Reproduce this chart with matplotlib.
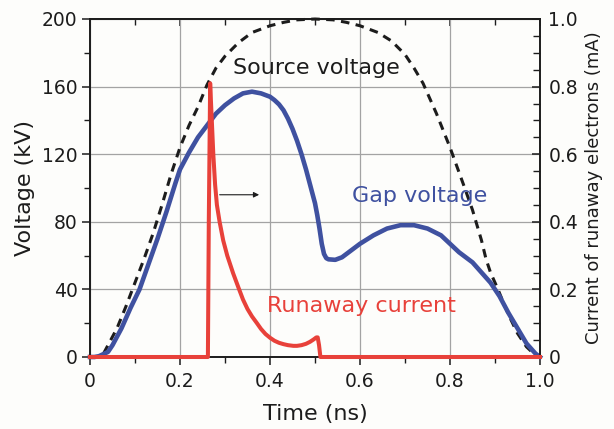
"""
Source voltage, gap voltage and runaway-electron current vs time.
Voltages on the left axis (kV), runaway current on the right axis (mA).
"""

import matplotlib
matplotlib.use('Agg')
import matplotlib.pyplot as plt
from matplotlib.ticker import MultipleLocator

# --- data ---
t_source = [0.0, 0.02, 0.03, 0.04, 0.06, 0.08, 0.10, 0.12, 0.14, 0.16, 0.18,
            0.20, 0.22, 0.24, 0.26, 0.28, 0.30, 0.33, 0.36, 0.40, 0.43, 0.46,
            0.50, 0.54, 0.57, 0.60, 0.64, 0.67, 0.70, 0.72, 0.74, 0.77, 0.80,
            0.83, 0.85, 0.87, 0.88, 0.89, 0.905, 0.93, 0.95, 0.97, 0.99, 1.0]
v_source = [0, 0, 2, 7, 17, 30, 44, 58, 73, 90, 108,
            124, 137, 148, 161, 171, 178, 186, 192, 196, 198, 199.5,
            200, 199.5, 198, 196, 192, 187, 179, 171, 162, 144, 124,
            102, 87, 69, 58, 50, 41, 25, 14, 6, 1, 0]

t_gap = [0.0, 0.01, 0.02, 0.04, 0.05, 0.07, 0.09, 0.11, 0.13, 0.15, 0.17,
         0.19, 0.20, 0.22, 0.24, 0.26, 0.28, 0.30, 0.32, 0.34, 0.36, 0.38,
         0.40, 0.41, 0.42, 0.43, 0.44, 0.45, 0.46, 0.47, 0.48, 0.49, 0.50,
         0.505, 0.51, 0.515, 0.52, 0.525, 0.53, 0.545, 0.56, 0.58, 0.60,
         0.63, 0.66, 0.69, 0.72, 0.75, 0.78, 0.80, 0.82, 0.85, 0.87, 0.89,
         0.91, 0.93, 0.95, 0.97, 0.99, 1.0]
v_gap = [0, 0, 0.5, 3, 7, 17, 29, 40, 55, 70, 86,
         103, 111, 121, 130, 137, 144, 149, 153, 156, 157, 156,
         154, 152, 149.5, 146, 141, 135, 128, 120, 111, 101, 91,
         84, 76, 67, 61, 58.5, 57.8, 57.5, 59, 63, 67,
         72, 76, 78, 78, 76, 72, 67, 62, 56, 50, 44,
         36, 26, 17, 8, 2, 0]

t_runaway = [0.0, 0.262, 0.264, 0.267, 0.270, 0.274, 0.278, 0.282, 0.288,
             0.296, 0.305, 0.318, 0.33, 0.34, 0.35, 0.36, 0.371, 0.38, 0.39,
             0.40, 0.41, 0.42, 0.43, 0.44, 0.452, 0.46, 0.47, 0.48, 0.489,
             0.497, 0.503, 0.506, 0.509, 0.512, 1.0]
i_runaway = [0, 0, 0.40, 0.81, 0.72, 0.60, 0.51, 0.45, 0.40,
             0.345, 0.30, 0.248, 0.205, 0.17, 0.142, 0.12, 0.10, 0.083, 0.068,
             0.057, 0.048, 0.042, 0.038, 0.035, 0.033, 0.033, 0.035, 0.039,
             0.045, 0.052, 0.058, 0.058, 0.035, 0, 0]

BLUE = "#3f51a0"
RED = "#e8413a"
DARK = "#1c1c1c"

plt.rcParams['font.family'] = ['DejaVu Sans']

fig = plt.figure(figsize=(6.14, 4.29), dpi=100, facecolor="#fdfdfb")
ax = fig.add_axes([90 / 614, 1 - 357 / 429, 450 / 614, 338 / 429])
ax.set_facecolor("#fdfdfb")
ax2 = ax.twinx()

ax.plot(t_source, v_source, color=DARK, lw=2.2, ls=(0, (2.8, 2.1)),
        clip_on=False, zorder=3)
ax.plot(t_gap, v_gap, color=BLUE, lw=3.3, clip_on=False, zorder=4,
        solid_joinstyle='round')
ax2.plot(t_runaway, i_runaway, color=RED, lw=2.9, clip_on=False, zorder=5,
         solid_joinstyle='round')

# axis ranges and ticks
ax.set_xlim(0, 1.0)
ax.set_ylim(0, 200)
ax2.set_ylim(0, 1.0)

ax.xaxis.set_minor_locator(MultipleLocator(0.1))
ax.yaxis.set_major_locator(MultipleLocator(40))
ax.yaxis.set_minor_locator(MultipleLocator(20))
ax2.yaxis.set_minor_locator(MultipleLocator(0.05))

ax.set_xticks([0, 0.2, 0.4, 0.6, 0.8, 1.0])
ax.set_xticklabels(["0", "0.2", "0.4", "0.6", "0.8", "1.0"])
ax2.set_yticks([0, 0.2, 0.4, 0.6, 0.8, 1.0])
ax2.set_yticklabels(["0", "0.2", "0.4", "0.6", "0.8", "1.0"])

ax.tick_params(axis='x', which='both', direction='out', top=False,
               labelsize=13.5, pad=5, colors=DARK)
ax.tick_params(axis='x', which='major', length=6, width=1.1)
ax.tick_params(axis='x', which='minor', length=4, width=1.0)
ax.tick_params(axis='y', which='both', direction='out', labelsize=13.5,
               pad=3, colors=DARK)
ax.tick_params(axis='y', which='major', length=6, width=1.1)
ax.tick_params(axis='y', which='minor', length=4, width=1.0)
ax2.tick_params(axis='y', which='both', direction='in', labelsize=13.5,
                pad=6, colors=DARK)
ax2.tick_params(axis='y', which='major', length=6, width=1.1)
ax2.tick_params(axis='y', which='minor', length=5, width=1.0)

# top ticks point inward
sec = ax.secondary_xaxis('top')
sec.set_xticks([0, 0.2, 0.4, 0.6, 0.8, 1.0])
sec.xaxis.set_minor_locator(MultipleLocator(0.1))
sec.tick_params(which='both', direction='in', labeltop=False, colors=DARK)
sec.tick_params(which='major', length=5, width=1.1)
sec.tick_params(which='minor', length=4, width=1.0)

for a in (ax, ax2):
    for sp in a.spines.values():
        sp.set_color(DARK)
        sp.set_linewidth(1.2)
sec.spines['top'].set_color(DARK)
sec.spines['top'].set_linewidth(1.2)

ax.grid(True, which='major', color="#a3a3a3", lw=0.9, zorder=0)
ax.set_axisbelow(True)

ax.set_xlabel("Time (ns)", fontsize=16, labelpad=9, color=DARK)
ax.set_ylabel("Voltage (kV)", fontsize=16, labelpad=5, color=DARK)
ax2.set_ylabel("Current of runaway electrons (mA)", fontsize=13,
               labelpad=5, color=DARK)

# curve labels
ax.text(0.318, 171, "Source voltage", fontsize=16, color=DARK,
        va='center', ha='left')
ax.text(0.582, 95, "Gap voltage", fontsize=16, color=BLUE,
        va='center', ha='left')
ax.text(0.393, 30, "Runaway current", fontsize=16, color=RED,
        va='center', ha='left')

# arrow pointing to the right axis (runaway current)
ax.annotate("", xy=(0.382, 96), xytext=(0.282, 96),
            arrowprops=dict(arrowstyle='-|>', color=DARK, lw=0.8,
                            mutation_scale=8), zorder=6)

fig.savefig("out.png", dpi=100, facecolor=fig.get_facecolor())
